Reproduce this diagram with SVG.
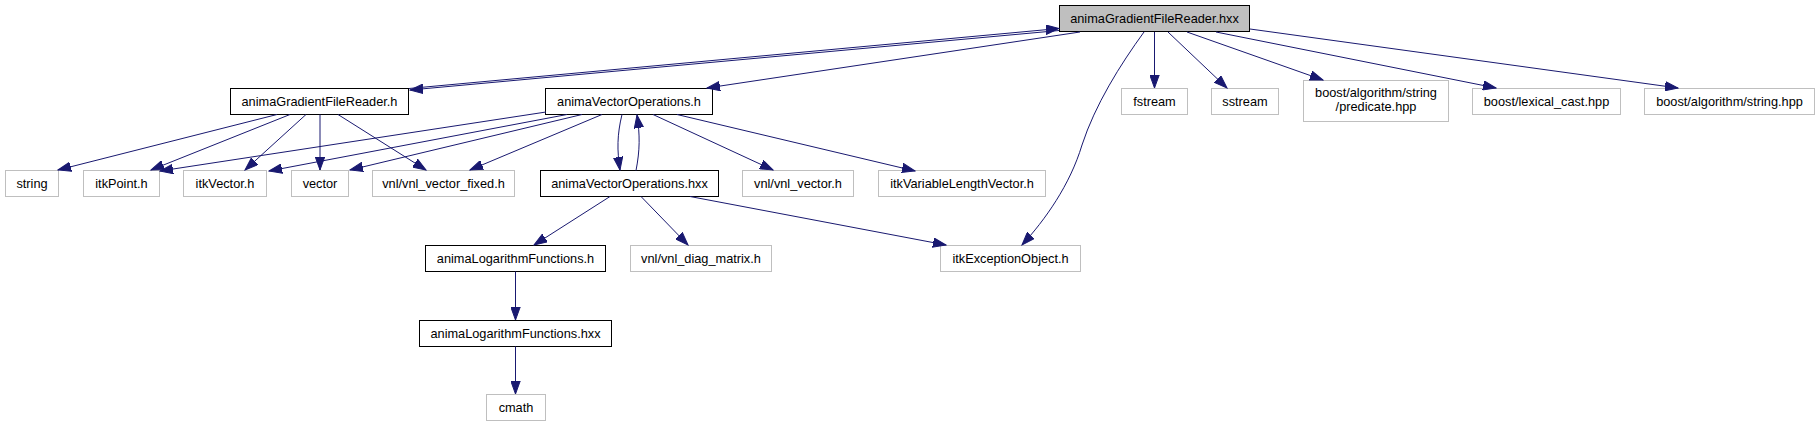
<svg xmlns="http://www.w3.org/2000/svg" width="1819" height="427" viewBox="0 0 1819 427">
<style>
  rect { fill: #ffffff; stroke-width: 1; }
  .root rect { fill: #bfbfbf; stroke: #000000; }
  .doc rect { stroke: #000000; }
  .ext rect { stroke: #bfbfbf; }
  text { font-family: "Liberation Sans", Arial, Helvetica, sans-serif; font-size: 12.75px; fill: #000000; text-anchor: middle; }
  #edges path { fill: none; stroke: #191970; stroke-width: 1; marker-end: url(#arr); }
</style>
<defs>
  <marker id="arr" markerUnits="userSpaceOnUse" markerWidth="14" markerHeight="10" viewBox="0 0 14 10" refX="13" refY="5" orient="auto">
    <path d="M0,0.3 L13,5 L0,9.7 Z" fill="#191970" stroke="#191970" stroke-width="1"/>
  </marker>
</defs>
<rect x="0" y="0" width="1819" height="427" style="fill:#ffffff;stroke:none"/>

<g id="node-root" class="root"><rect x="1059.5" y="5.5" width="190" height="26"/><text x="1154.5" y="23">animaGradientFileReader.hxx</text></g>

<g id="node-gfr-h" class="doc"><rect x="230.5" y="88.5" width="178" height="26"/><text x="319.5" y="106">animaGradientFileReader.h</text></g>
<g id="node-vo-h" class="doc"><rect x="545.5" y="88.5" width="167" height="26"/><text x="629" y="106">animaVectorOperations.h</text></g>
<g id="node-fstream" class="ext"><rect x="1121.5" y="88.5" width="66" height="26"/><text x="1154.5" y="106">fstream</text></g>
<g id="node-sstream" class="ext"><rect x="1211.5" y="88.5" width="67" height="26"/><text x="1245" y="106">sstream</text></g>
<g id="node-predicate" class="ext"><rect x="1303.5" y="80.5" width="145" height="41"/><text x="1376" y="97">boost/algorithm/string</text><text x="1376" y="111">/predicate.hpp</text></g>
<g id="node-lexical" class="ext"><rect x="1472.5" y="88.5" width="148" height="26"/><text x="1546.5" y="106">boost/lexical_cast.hpp</text></g>
<g id="node-stringhpp" class="ext"><rect x="1644.5" y="88.5" width="170" height="26"/><text x="1729.5" y="106">boost/algorithm/string.hpp</text></g>

<g id="node-string" class="ext"><rect x="5.5" y="170.5" width="53" height="26"/><text x="32" y="188">string</text></g>
<g id="node-itkpoint" class="ext"><rect x="83.5" y="170.5" width="76" height="26"/><text x="121.5" y="188">itkPoint.h</text></g>
<g id="node-itkvector" class="ext"><rect x="183.5" y="170.5" width="83" height="26"/><text x="225" y="188">itkVector.h</text></g>
<g id="node-vector" class="ext"><rect x="291.5" y="170.5" width="57" height="26"/><text x="320" y="188">vector</text></g>
<g id="node-vnlfixed" class="ext"><rect x="372.5" y="170.5" width="142" height="26"/><text x="443.5" y="188">vnl/vnl_vector_fixed.h</text></g>
<g id="node-vo-hxx" class="doc"><rect x="540.5" y="170.5" width="178" height="26"/><text x="629.5" y="188">animaVectorOperations.hxx</text></g>
<g id="node-vnlvector" class="ext"><rect x="742.5" y="170.5" width="111" height="26"/><text x="798" y="188">vnl/vnl_vector.h</text></g>
<g id="node-itkvlv" class="ext"><rect x="878.5" y="170.5" width="167" height="26"/><text x="962" y="188">itkVariableLengthVector.h</text></g>

<g id="node-log-h" class="doc"><rect x="425.5" y="245.5" width="180" height="26"/><text x="515.5" y="263">animaLogarithmFunctions.h</text></g>
<g id="node-diag" class="ext"><rect x="630.5" y="245.5" width="141" height="26"/><text x="701" y="263">vnl/vnl_diag_matrix.h</text></g>
<g id="node-itkexc" class="ext"><rect x="940.5" y="245.5" width="140" height="26"/><text x="1010.5" y="263">itkExceptionObject.h</text></g>

<g id="node-log-hxx" class="doc"><rect x="419.5" y="320.5" width="192" height="26"/><text x="515.5" y="338">animaLogarithmFunctions.hxx</text></g>

<g id="node-cmath" class="ext"><rect x="486.5" y="394.5" width="59" height="26"/><text x="516" y="412">cmath</text></g>

<g id="edges">
  <path d="M409,88.5 L1059,28.5"/>
  <path d="M1059,30.5 L410,90"/>
  <path d="M1080,32 L707,88"/>
  <path d="M1144,32 C1120,65 1095,105 1082,145 C1070,185 1045,220 1022,245"/>
  <path d="M1154.5,32 L1154.5,88"/>
  <path d="M1168,32 L1227,88"/>
  <path d="M1187,32 L1323,80"/>
  <path d="M1216,32 L1496,88"/>
  <path d="M1250,29 L1678,88"/>

  <path d="M277,114.5 L58,170"/>
  <path d="M290,114.5 L151,170"/>
  <path d="M306,114.5 L245,170"/>
  <path d="M320,114.5 L320,170"/>
  <path d="M338,114.5 L426,170"/>

  <path d="M546,112 L160,171"/>
  <path d="M567,114.5 L269,171"/>
  <path d="M582,114.5 L350,170"/>
  <path d="M602,114.5 L470,170"/>
  <path d="M622,114.5 C617,135 617,150 620,170"/>
  <path d="M636,170.5 C640,150 640,135 637,115"/>
  <path d="M653,114.5 L773,170"/>
  <path d="M677,114.5 L915,171"/>

  <path d="M610,196.5 L534,245"/>
  <path d="M641,196.5 L688,245"/>
  <path d="M690,196.5 L946,245"/>

  <path d="M515.5,271.5 L515.5,320"/>
  <path d="M515.5,346.5 L515.5,394"/>
</g>
</svg>
